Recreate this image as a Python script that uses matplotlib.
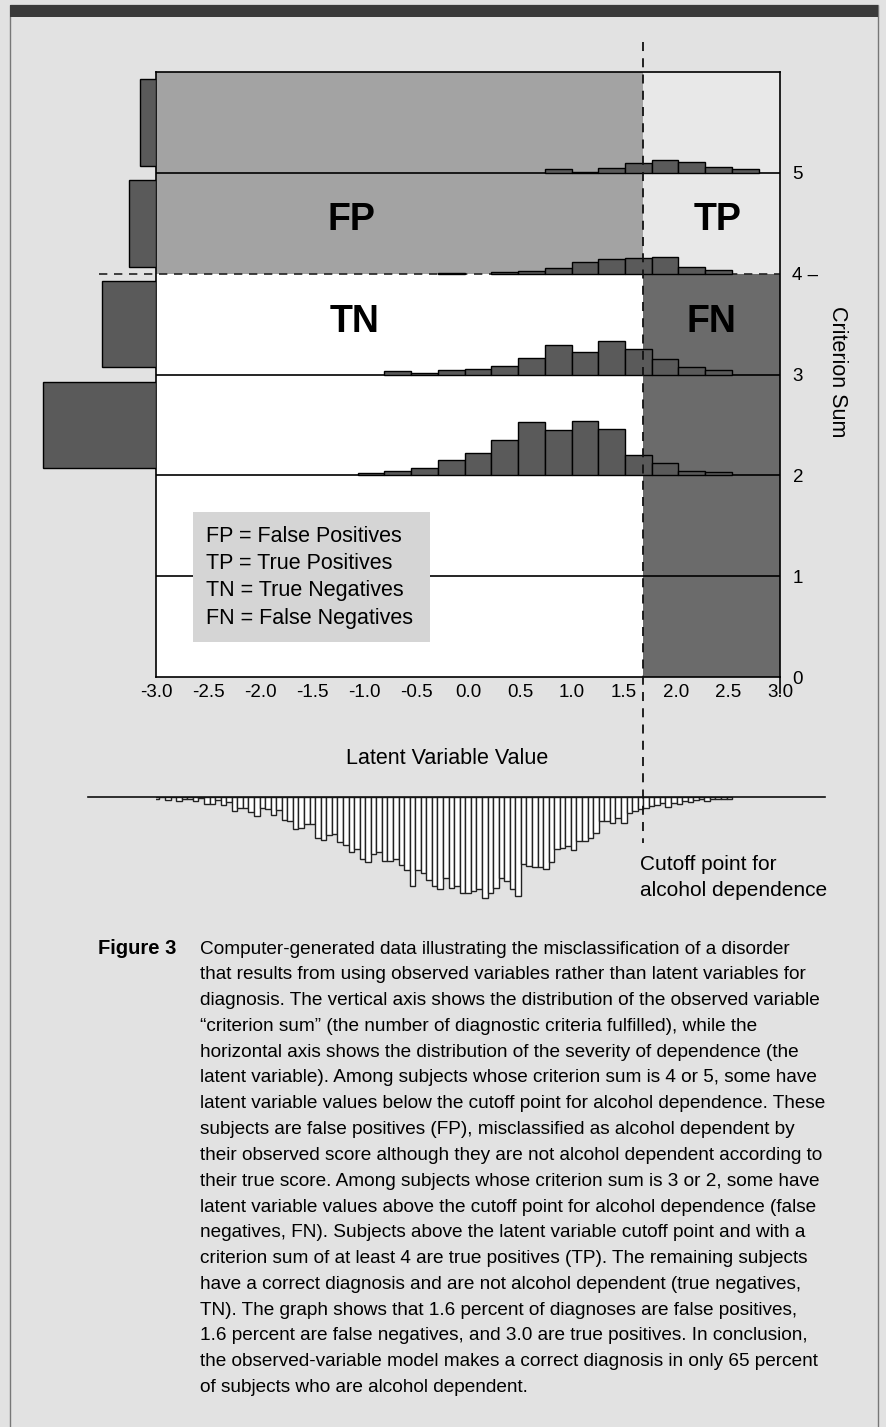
import numpy as np
import matplotlib
matplotlib.use("Agg")
from matplotlib import pyplot as plt
from matplotlib import transforms
from matplotlib.patches import Rectangle
from matplotlib.lines import Line2D

plt.rcParams['font.family'] = ['Liberation Sans', 'DejaVu Sans']
plt.rcParams['axes.unicode_minus'] = False

W, H = 886, 1427

cutoff = 1.68

# marginal distribution of the criterion sum (bars on the left)
sumRows = [2, 3, 4, 5]
sumCounts = [113, 54, 27, 16]

# latent variable histograms per criterion sum row
binEdges = [-1.06, -0.803, -0.546, -0.289, -0.032, 0.225, 0.482, 0.739,
            0.996, 1.253, 1.51, 1.767, 2.024, 2.281, 2.538, 2.795]
row2 = [2.7, 4, 7.3, 15, 22.3, 35, 53, 45.3, 54.7, 46, 20.3, 12, 4.7, 3.3, 0]
row3 = [0, 3, 1.7, 4, 5, 8, 16.3, 29.7, 22, 33.3, 25.7, 15, 7.7, 4, 0]
row4 = [0, 0, 0, 1, 0, 2, 3, 6, 12, 15, 16, 17, 7, 4, 0]
row5 = [0, 0, 0, 0, 0, 0, 0, 3.5, 1, 5, 10, 13, 11, 6, 4]
rowHists = {2: row2, 3: row3, 4: row4, 5: row5}
rowScale = 100.8

# overall latent variable distribution (mirrored histogram below)
latentStart, latentEnd = -3.02, 2.54
latentDepth = [2.3, 0.5, 3.3, 0.5, 4.3, 1.7, 1.7, 4, 1, 6.7, 6.7, 3.3, 8.3, 5,
               14.3, 11, 11, 15, 19.3, 11, 12.3, 17.7, 13.3, 22.7, 24.3, 32.3,
               31, 26.7, 26.7, 40.7, 42.7, 38.3, 36.7, 45, 48.3, 55, 51.7, 62.3,
               65, 56.7, 55, 64.3, 64.3, 62.3, 68.3, 73.3, 89.3, 72.7, 75.7,
               83.3, 89,
               92.3, 80.7, 90.7, 89, 96.3, 96.3, 94, 91.7, 100.7, 96.3, 90.7,
               80.7, 84, 92.3, 99, 67.3, 69, 69.7, 69.7, 71.7, 65, 52.3, 50.7,
               49, 53, 44, 44, 40.7, 36.3, 24, 24, 25.7, 20.7, 26.3, 15.7, 14,
               12.3, 10.7, 9, 8.3, 6.3, 9.7, 5.7, 7.3, 4, 5, 3, 2.3, 4, 1.7,
               1.7, 2.3, 2.3]

xTicks = [-3.0, -2.5, -2.0, -1.5, -1.0, -0.5, 0.0, 0.5, 1.0, 1.5, 2.0, 2.5, 3.0]
yTicks = [0, 1, 2, 3, 4, 5]
yTickLabels = ['0', '1', '2', '3', '4 \u2013', '5']

legendLines = ['FP = False Positives', 'TP = True Positives',
               'TN = True Negatives', 'FN = False Negatives']

captionLines = [
    "Computer-generated data illustrating the misclassification of a disorder",
    "that results from using observed variables rather than latent variables for",
    "diagnosis. The vertical axis shows the distribution of the observed variable",
    "\u201ccriterion sum\u201d (the number of diagnostic criteria fulfilled), while the",
    "horizontal axis shows the distribution of the severity of dependence (the",
    "latent variable). Among subjects whose criterion sum is 4 or 5, some have",
    "latent variable values below the cutoff point for alcohol dependence. These",
    "subjects are false positives (FP), misclassified as alcohol dependent by",
    "their observed score although they are not alcohol dependent according to",
    "their true score. Among subjects whose criterion sum is 3 or 2, some have",
    "latent variable values above the cutoff point for alcohol dependence (false",
    "negatives, FN). Subjects above the latent variable cutoff point and with a",
    "criterion sum of at least 4 are true positives (TP). The remaining subjects",
    "have a correct diagnosis and are not alcohol dependent (true negatives,",
    "TN). The graph shows that 1.6 percent of diagnoses are false positives,",
    "1.6 percent are false negatives, and 3.0 are true positives. In conclusion,",
    "the observed-variable model makes a correct diagnosis in only 65 percent",
    "of subjects who are alcohol dependent.",
]

bgColor = '#e2e2e2'
fpColor = '#a3a3a3'
tpColor = '#e8e8e8'
fnColor = '#6b6b6b'
barColor = '#5a5a5a'
boxColor = '#d5d5d5'


def fx(px):
    return px / W


def fy(py):
    return 1 - py / H


fig = plt.figure(figsize=(W / 100, H / 100), dpi=100, facecolor=bgColor)

# page frame
fig.add_artist(Rectangle((fx(10), fy(1440)), fx(868), (1440 - 5) / H,
                         transform=fig.transFigure, fc='none', ec='#777777', lw=1))
fig.add_artist(Rectangle((fx(10), fy(17)), fx(868), 12 / H,
                         transform=fig.transFigure, fc='#3a3a3a', ec='none'))

# main panel
ax = fig.add_axes([fx(156), fy(677), fx(624), 605 / H])
ax.set_facecolor('none')
ax.set_xlim(-3, 3)
ax.set_ylim(0, 6)

ax.add_patch(Rectangle((-3, 4), cutoff + 3, 2, fc=fpColor, ec='none', zorder=0))
ax.add_patch(Rectangle((cutoff, 4), 3 - cutoff, 2, fc=tpColor, ec='none', zorder=0))
ax.add_patch(Rectangle((-3, 0), cutoff + 3, 4, fc='white', ec='none', zorder=0))
ax.add_patch(Rectangle((cutoff, 0), 3 - cutoff, 4, fc=fnColor, ec='none', zorder=0))

for yv in [1, 2, 3, 5]:
    ax.axhline(yv, color='black', lw=1.2, zorder=2)
ax.plot([-3.55, 3.0], [4, 4], color='#222222', lw=1.2, ls=(0, (5, 4)),
        clip_on=False, zorder=2)

edges = np.array(binEdges)
widths = np.diff(edges)
for base, counts in rowHists.items():
    counts = np.array(counts, dtype=float)
    keep = counts > 0
    ax.bar(edges[:-1][keep], counts[keep] / rowScale, width=widths[keep],
           bottom=base, align='edge', color=barColor, edgecolor='black',
           lw=1, zorder=3)

# legend box
ax.add_patch(Rectangle((-2.644, 0.347), 2.28, 1.29, fc=boxColor, ec='none', zorder=4))
for i, line in enumerate(legendLines):
    ax.text(-2.52, 1.389 - 0.268 * i, line, fontsize=15.5, va='center',
            ha='left', zorder=5)

# region labels
ax.text(-1.12, 4.53, 'FP', fontsize=27, fontweight='bold', ha='center', va='center', zorder=5)
ax.text(2.40, 4.53, 'TP', fontsize=27, fontweight='bold', ha='center', va='center', zorder=5)
ax.text(-1.09, 3.52, 'TN', fontsize=27, fontweight='bold', ha='center', va='center', zorder=5)
ax.text(2.34, 3.52, 'FN', fontsize=27, fontweight='bold', ha='center', va='center', zorder=5)

for sp in ax.spines.values():
    sp.set_linewidth(1.2)
    sp.set_zorder(6)
ax.plot([3, 3], [0, -0.16], color='black', lw=1.2, clip_on=False)

ax.yaxis.tick_right()
ax.set_yticks(yTicks)
ax.set_yticklabels(yTickLabels)
ax.set_xticks(xTicks)
ax.set_xticklabels([f"{v:.1f}" for v in xTicks])
ax.tick_params(axis='both', length=0, labelsize=13.5)
ax.tick_params(axis='y', pad=9)
ax.tick_params(axis='x', pad=5)
for lab in ax.get_yticklabels():
    lab.set_horizontalalignment('left')

# marginal criterion-sum bars
axl = fig.add_axes([fx(30), fy(677), fx(126), 605 / H])
axl.barh(np.array(sumRows) + 0.5, sumCounts, height=0.86, color=barColor,
         edgecolor='black', lw=1)
axl.set_xlim(126, 0)
axl.set_ylim(0, 6)
axl.axis('off')

# mirrored latent distribution
axb = fig.add_axes([fx(156), fy(907), fx(624), 110 / H])
axb.set_xlim(-3, 3)
axb.set_ylim(110, 0)
latEdges = np.linspace(latentStart, latentEnd, len(latentDepth) + 1)
axb.bar(latEdges[:-1], latentDepth, width=np.diff(latEdges), align='edge',
        color='white', edgecolor='#222222', lw=1)
axb.plot([-3.654, 3.433], [0, 0], color='#111111', lw=1.2, clip_on=False)
axb.set_facecolor('none')
axb.axis('off')

# cutoff line across panels
trans = transforms.blended_transform_factory(ax.transData, fig.transFigure)
fig.add_artist(Line2D([cutoff, cutoff], [fy(42), fy(843)], transform=trans,
                      color='#111111', lw=1.3, ls=(0, (5, 4)), zorder=7))

fig.text(fx(447), fy(759), 'Latent Variable Value', fontsize=15.5, ha='center', va='center')
fig.text(fx(838), fy(372), 'Criterion Sum', fontsize=15.5, rotation=270,
         ha='center', va='center')
fig.text(fx(640), fy(865), 'Cutoff point for', fontsize=15, ha='left', va='center')
fig.text(fx(640), fy(890), 'alcohol dependence', fontsize=15, ha='left', va='center')

# caption
fig.text(fx(98), fy(949), 'Figure 3', fontsize=14.5, fontweight='bold', ha='left', va='center')
for i, line in enumerate(captionLines):
    fig.text(fx(200), fy(949 + 25.8 * i), line, fontsize=13.7, ha='left', va='center')

fig.savefig('out.png', dpi=100, facecolor=bgColor)
